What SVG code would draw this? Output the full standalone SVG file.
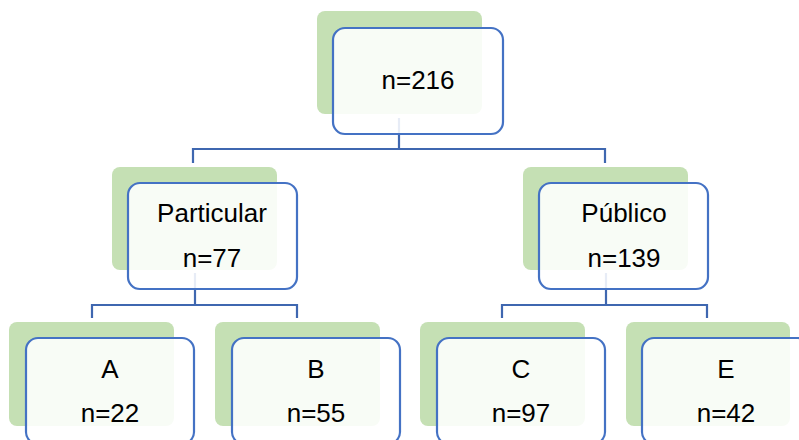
<svg xmlns="http://www.w3.org/2000/svg" width="799" height="440" viewBox="0 0 799 440">
<style>
.sh{fill:#C5E0B4}
.bx{fill:#FFFFFF;fill-opacity:0.88;stroke:#4472C4;stroke-width:2.2}
.cn{fill:none;stroke:#3F67B0;stroke-width:2.2}
.t{font-family:"Liberation Sans",Arial,sans-serif;font-size:26px;fill:#000;text-anchor:middle}
</style>
<rect width="799" height="440" fill="#FFFFFF"/>
<g id="connectors">
<path class="cn" d="M399,118 V149 M193,163 V149 H605 V163"/>
<path class="cn" d="M195,273 V305 M92,318 V305 H297 V318"/>
<path class="cn" d="M606,273 V305 M502,318 V305 H707 V318"/>
</g>
<g id="n216">
<rect class="sh" x="317" y="11" width="165" height="103" rx="8"/>
<rect class="bx" x="333" y="28" width="170" height="106" rx="12"/>
<text class="t" x="418" y="89">n=216</text>
</g>
<g id="particular">
<rect class="sh" x="112" y="167" width="165" height="103" rx="8"/>
<rect class="bx" x="128" y="183" width="169" height="106" rx="12"/>
<text class="t" x="212" y="222">Particular</text>
<text class="t" x="212" y="267">n=77</text>
</g>
<g id="publico">
<rect class="sh" x="523" y="167" width="165" height="103" rx="8"/>
<rect class="bx" x="539" y="183" width="169" height="106" rx="12"/>
<text class="t" x="624" y="222">Público</text>
<text class="t" x="624" y="267">n=139</text>
</g>
<g id="A">
<rect class="sh" x="9" y="322" width="165" height="104" rx="8"/>
<rect class="bx" x="26" y="338" width="168" height="106" rx="12"/>
<text class="t" x="110" y="378">A</text>
<text class="t" x="110" y="422">n=22</text>
</g>
<g id="B">
<rect class="sh" x="215" y="322" width="165" height="104" rx="8"/>
<rect class="bx" x="232" y="338" width="168" height="106" rx="12"/>
<text class="t" x="316" y="378">B</text>
<text class="t" x="316" y="422">n=55</text>
</g>
<g id="C">
<rect class="sh" x="420" y="322" width="165" height="104" rx="8"/>
<rect class="bx" x="437" y="338" width="168" height="106" rx="12"/>
<text class="t" x="521" y="378">C</text>
<text class="t" x="521" y="422">n=97</text>
</g>
<g id="E">
<rect class="sh" x="626" y="322" width="164" height="104" rx="8"/>
<rect class="bx" x="642" y="338" width="168" height="106" rx="12"/>
<text class="t" x="726" y="378">E</text>
<text class="t" x="726" y="422">n=42</text>
</g>
</svg>
